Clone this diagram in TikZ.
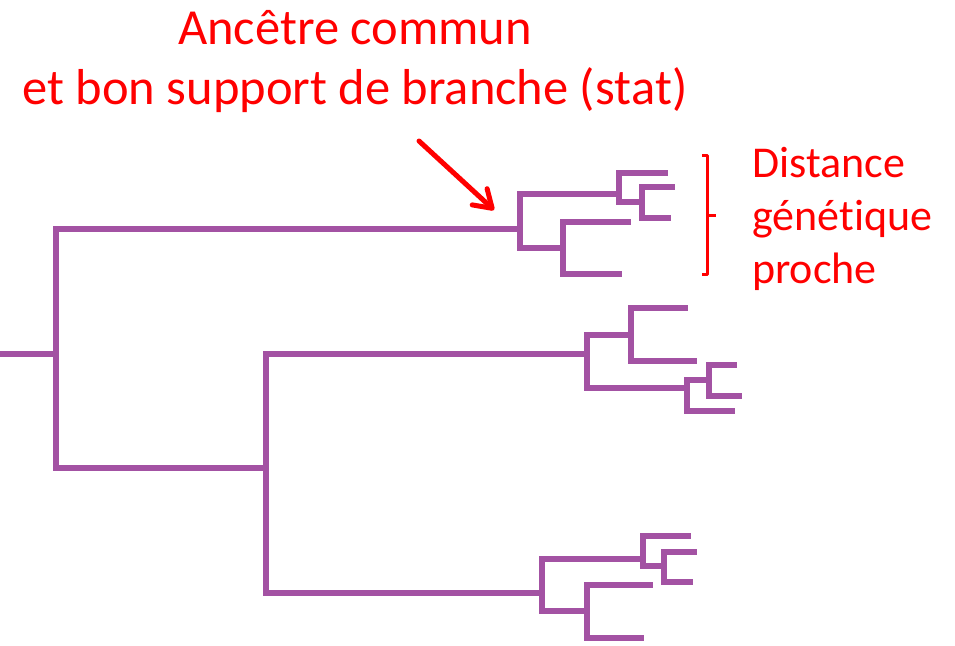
\documentclass[tikz,border=0pt]{standalone}
\usepackage{fontspec}
\setmainfont{Carlito}[Ligatures={NoCommon}]
\usetikzlibrary{arrows.meta}
\definecolor{treepurple}{RGB}{163,82,163}
\definecolor{annred}{RGB}{255,0,0}
\tikzset{
  branch/.style={draw=treepurple, line width=6pt, line cap=butt, line join=miter},
  bracketline/.style={draw=annred, line width=3pt, line join=round},
  pointer/.style={draw=annred, line width=5pt, line cap=round, -{Straight Barb[length=17pt,width=22pt,line cap=round,line join=round]}},
  titletext/.style={text=annred, inner sep=0pt, anchor=base, font=\fontsize{50.5}{60}\selectfont},
  sidetext/.style={text=annred, inner sep=0pt, anchor=base west, font=\fontsize{44}{53}\selectfont}
}
\begin{document}
\begin{tikzpicture}[x=1pt,y=-1pt]
\useasboundingbox (0,0) rectangle (955,645);
% tree coordinates
\coordinate (r0) at (0,354);
\coordinate (n0) at (56,354);
\coordinate (nA) at (520,229);
\coordinate (nB) at (266,468);
\coordinate (a1) at (619,194);
\coordinate (a11) at (642,202);
\coordinate (a2) at (563,248);
\coordinate (L1) at (668,173);
\coordinate (L2) at (675,187);
\coordinate (L3) at (671,218);
\coordinate (L4) at (631,222);
\coordinate (L5) at (622,274);
\coordinate (nB1) at (587,354);
\coordinate (nB2) at (542,593);
\coordinate (b1) at (631,335);
\coordinate (b2) at (687,388);
\coordinate (b21) at (709,380);
\coordinate (L6) at (688,308);
\coordinate (L7) at (697,361);
\coordinate (L8) at (735,411);
\coordinate (L9) at (737,365);
\coordinate (L10) at (742,396);
\coordinate (c1) at (643,559);
\coordinate (c11) at (664,566);
\coordinate (c2) at (587,611);
\coordinate (L11) at (691,536);
\coordinate (L12) at (697,552);
\coordinate (L13) at (693,582);
\coordinate (L14) at (653,585);
\coordinate (L15) at (644,638);
% branches
\draw[branch] (r0) -- (n0);
\draw[branch] (n0) |- (nA);
\draw[branch] (n0) |- (nB);
\draw[branch] (nA) |- (a1);
\draw[branch] (nA) |- (a2);
\draw[branch] (a1) |- (L1);
\draw[branch] (a1) |- (a11);
\draw[branch] (a11) |- (L2);
\draw[branch] (a11) |- (L3);
\draw[branch] (a2) |- (L4);
\draw[branch] (a2) |- (L5);
\draw[branch] (nB) |- (nB1);
\draw[branch] (nB) |- (nB2);
\draw[branch] (nB1) |- (b1);
\draw[branch] (nB1) |- (b2);
\draw[branch] (b1) |- (L6);
\draw[branch] (b1) |- (L7);
\draw[branch] (b2) |- (b21);
\draw[branch] (b2) |- (L8);
\draw[branch] (b21) |- (L9);
\draw[branch] (b21) |- (L10);
\draw[branch] (nB2) |- (c1);
\draw[branch] (nB2) |- (c2);
\draw[branch] (c1) |- (L11);
\draw[branch] (c1) |- (c11);
\draw[branch] (c11) |- (L12);
\draw[branch] (c11) |- (L13);
\draw[branch] (c2) |- (L14);
\draw[branch] (c2) |- (L15);
% bracket
\coordinate (brTop) at (702,155);
\coordinate (brBot) at (702,274);
\coordinate (brMid) at (707,215);
\coordinate (brTip) at (716,215);
\draw[bracketline] (brTop) -- ++(5,0) |- (brBot);
\draw[bracketline] (brMid) -- (brTip);
% arrow
\coordinate (arS) at (419,141);
\coordinate (arE) at (494,210);
\draw[pointer] (arS) -- (arE);
% texts
\node[titletext] (t1) at (355,44) {Ancêtre commun};
\node[titletext] (t2) at (355,104) {et bon support de branche (st\kern0pt at)};
\node[sidetext] (s1) at (752,177) {Distance};
\node[sidetext] (s2) at (752,230) {génét\kern0pt ique};
\node[sidetext] (s3) at (752,283) {proche};
\end{tikzpicture}
\end{document}
